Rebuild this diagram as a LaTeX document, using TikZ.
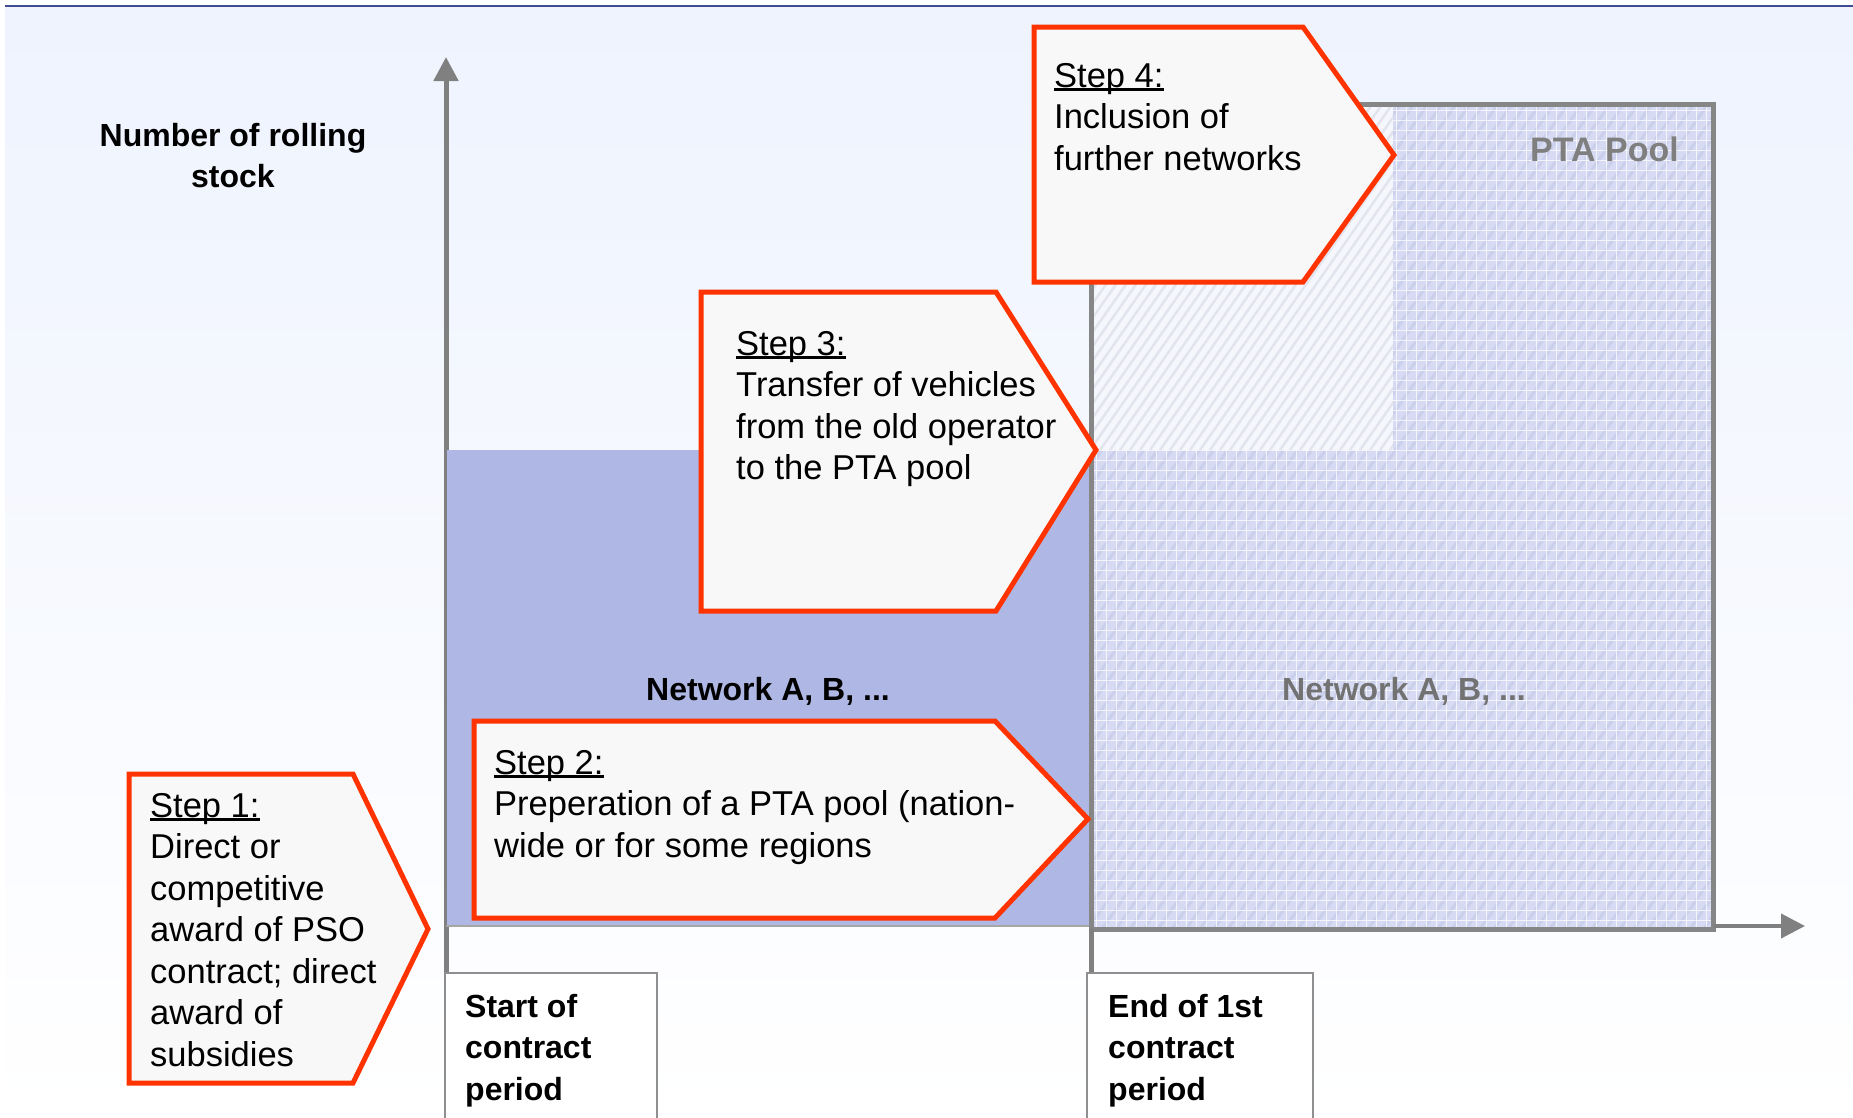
\documentclass[tikz,border=0pt]{standalone}
\usepackage{fontspec}
\setmainfont{Liberation Sans}
\usetikzlibrary{arrows.meta}

\definecolor{framenavy}{HTML}{3F4D90}
\definecolor{bgtop}{HTML}{EEF3FE}
\definecolor{axisgray}{HTML}{808080}
\definecolor{netblue}{HTML}{AFB7E5}
\definecolor{poolblue}{HTML}{D6DAF2}
\definecolor{poolstripe}{HTML}{C6CCEA}
\definecolor{newfill}{HTML}{F6F7FC}
\definecolor{newstripe}{HTML}{E2E4EE}
\definecolor{stepred}{HTML}{FF3300}
\definecolor{stepfill}{HTML}{F8F8F8}
\definecolor{pooltext}{HTML}{7F7F7F}
\definecolor{boxgray}{HTML}{8F8F8F}

% underlined step heading, rule placed just below the baseline
\newlength\ulwidth
\newcommand\steptitle[1]{\settowidth\ulwidth{#1}\rlap{\rule[-3.6pt]{\ulwidth}{2.2pt}}#1}

% multi-line nodes are anchored at the baseline of their last line
\tikzset{
  stepbox/.style={draw=stepred, line width=5pt, fill=stepfill, miter limit=10},
  steptext/.style={anchor=base west, align=left, inner sep=0pt,
    font=\fontsize{34.5}{41.5}\selectfont},
  boldlabel/.style={align=left, inner sep=0pt,
    font=\bfseries\fontsize{32}{41.5}\selectfont},
  axisline/.style={draw=axisgray, line width=5pt},
  axisarrow/.style={axisline, -{Triangle[length=24pt,width=24pt]}},
  periodbox/.style={draw=boxgray, line width=2.5pt, fill=white},
}

\begin{document}
\begin{tikzpicture}[x=1pt,y=-1pt]
\useasboundingbox (0,0) rectangle (1853,1117);
\clip (0,0) rectangle (1853,1117);

% page background and top rule
\fill[white] (0,0) rectangle (1853,1117);
\shade[top color=bgtop, bottom color=white] (5,7) rectangle (1853,1117);
\draw[framenavy, line width=2.5pt] (5,6) -- (1853,6);

% key points of the chart
\coordinate (origin) at (446,926);
\coordinate (ytip)   at (446,57);
\coordinate (xend)   at (1713,926);
\coordinate (xtip)   at (1805,926);
\coordinate (endtick) at (1091,929);

% vertical axis
\draw[axisarrow] (446,973) -- (ytip);

% current networks
\fill[netblue] (446.5,450) rectangle (1090,926);
\draw[axisgray!70, line width=2pt] (origin) -- (1091,926);

% PTA pool with textured fill
\fill[poolblue] (1091,104) rectangle (1713,929);
\begin{scope}
  \clip (1091,104) rectangle (1713,929);
  \foreach \x in {500,514,...,1720}
    \draw[poolstripe, line width=3pt, opacity=0.7] (\x,929) -- ++(578,-825);
  \foreach \x in {1096,1106,...,1713}
    \draw[white, line width=1pt, opacity=0.75] (\x,104) -- (\x,929);
  \foreach \y in {110,120,...,929}
    \draw[white, line width=1pt, opacity=0.75] (1091,\y) -- (1713,\y);
\end{scope}
% area of further networks
\fill[newfill] (1093.5,106.5) rectangle (1393,450);
\begin{scope}
  \clip (1093.5,106.5) rectangle (1393,450);
  \foreach \x in {840,850,...,1400}
    \draw[newstripe, line width=2.5pt] (\x,450) -- ++(241,-344);
\end{scope}
\draw[draw=axisgray!95, line width=5pt] (1091,104) rectangle (1713,929);

% horizontal axis and period ticks
\draw[axisline, line width=4pt, -{Triangle[length=24pt,width=24pt]}] (xend) -- (xtip);
\draw[axisline] (endtick) -- (1091,973);

% period labels
\draw[periodbox] (445,973) rectangle (657,1130);
\draw[periodbox] (1087,973) rectangle (1313,1130);
\node[boldlabel, anchor=base west] (startlbl) at (465,1100) {Start of\\contract\\period};
\node[boldlabel, anchor=base west] (endlbl) at (1108,1100) {End of 1st\\contract\\period};

% axis title
\node[boldlabel, align=center, anchor=base] (ytitle) at (233,187.5) {Number of rolling\\stock};

% area labels
\node[boldlabel, anchor=base] (netlbl) at (768,700) {Network A, B, ...};
\node[boldlabel, anchor=base, text=pooltext!90!black] (poolnetlbl) at (1404,700) {Network A, B, ...};
\node[boldlabel, font=\bfseries\fontsize{34}{41.5}\selectfont, anchor=base east, text=pooltext] (poollbl) at (1679,161) {PTA Pool};

% step arrows
\draw[stepbox] (129,774) -- (353,774) -- (428,929) -- (353,1083) -- (129,1083) -- cycle;
\node[steptext] (step1) at (150,1066) {\steptitle{Step 1:}\\Direct or\\competitive\\award of PSO\\contract; direct\\award of\\subsidies};

\draw[stepbox] (474,721) -- (995,721) -- (1088,819) -- (995,918) -- (474,918) -- cycle;
\node[steptext] (step2) at (494,857) {\steptitle{Step 2:}\\Preperation of a PTA pool (nation-\\wide or for some regions};

\draw[stepbox] (701,292) -- (996,292) -- (1096,450) -- (996,611) -- (701,611) -- cycle;
\node[steptext] (step3) at (736,479.5) {\steptitle{Step 3:}\\Transfer of vehicles\\from the old operator\\to the PTA pool};

\draw[stepbox] (1034,27) -- (1303,27) -- (1394,155) -- (1303,282) -- (1034,282) -- cycle;
\node[steptext] (step4) at (1054,170) {\steptitle{Step 4:}\\Inclusion of\\further networks};
\end{tikzpicture}
\end{document}
